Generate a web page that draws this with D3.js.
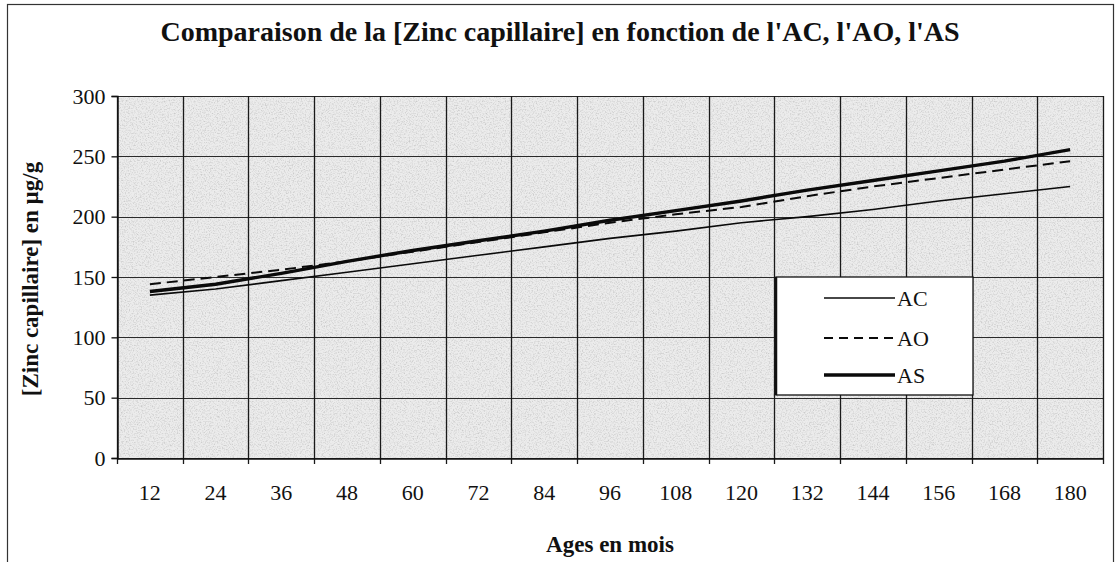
<!DOCTYPE html>
<html>
<head>
<meta charset="utf-8">
<script src="https://cdn.jsdelivr.net/npm/d3@7"></script>
<style>
body { margin: 0; background: #fff; }
text { font-family: "Liberation Serif", "Times New Roman", serif; fill: #111; }
</style>
</head>
<body>
<svg width="1118" height="562" id="content"></svg>
<script>
// ages en mois (categories)
var ages = [12, 24, 36, 48, 60, 72, 84, 96, 108, 120, 132, 144, 156, 168, 180];
// [Zinc capillaire] en µg/g
var acValues = [135, 140, 147, 154, 161, 168, 175, 182, 188, 195, 200, 206, 213, 219, 225];
var aoValues = [144, 150, 156, 163, 171, 179, 187, 195, 202, 208, 217, 225, 232, 239, 246];
var asValues = [138, 144, 153, 163, 172, 180, 188, 197, 205, 213, 222, 230, 238, 246, 255.5];
var yTicks = [0, 50, 100, 150, 200, 250, 300];
var seriesNames = ["AC", "AO", "AS"];

var svg = d3.select("svg");
var width = +svg.attr("width");
var height = +svg.attr("height");

// plot area (note: "top" is taken by window.top, so prefixed names)
var pLeft = 117, pRight = 1103, pTop = 96, pBottom = 458;

// outer frame
svg.append("rect")
  .attr("x", 7.5).attr("y", 4.5)
  .attr("width", 1106).attr("height", 570)
  .attr("fill", "none").attr("stroke", "#333").attr("stroke-width", 1.2);

// grainy gray plot background (scanned look)
var defs = svg.append("defs");
var f = defs.append("filter").attr("id", "grain").attr("x", 0).attr("y", 0).attr("width", 1).attr("height", 1);
f.append("feTurbulence").attr("type", "fractalNoise").attr("baseFrequency", 0.75).attr("numOctaves", 3).attr("seed", 7).attr("result", "n");
f.append("feColorMatrix").attr("in", "n").attr("type", "matrix")
  .attr("values", "0 0 0 0 0.6  0 0 0 0 0.6  0 0 0 0 0.6  2.6 0 0 0 -1.15")
  .attr("result", "m");
f.append("feComposite").attr("in", "m").attr("in2", "SourceGraphic").attr("operator", "over");

var x = d3.scaleBand().domain(ages).range([pLeft, pRight]);
var y = d3.scaleLinear().domain([0, 300]).range([pBottom, pTop]);

svg.append("rect")
  .attr("x", pLeft).attr("y", pTop)
  .attr("width", pRight - pLeft).attr("height", pBottom - pTop)
  .attr("fill", "#ececec")
  .attr("filter", "url(#grain)");

// horizontal grid
svg.append("g").selectAll("line")
  .data(yTicks).enter().append("line")
  .attr("x1", pLeft).attr("x2", pRight)
  .attr("y1", function(d) { return Math.round(y(d)) + 0.5; })
  .attr("y2", function(d) { return Math.round(y(d)) + 0.5; })
  .attr("stroke", "#2a2a2a").attr("stroke-width", 1.2);

// vertical grid at band edges
var edges = ages.map(function(a) { return x(a); }).concat([pRight]);
svg.append("g").selectAll("line")
  .data(edges).enter().append("line")
  .attr("x1", function(d) { return Math.round(d) + 0.5; })
  .attr("x2", function(d) { return Math.round(d) + 0.5; })
  .attr("y1", pTop).attr("y2", pBottom + 6)
  .attr("stroke", "#1a1a1a").attr("stroke-width", 1.3);

// y axis
var yAxis = svg.append("g")
  .attr("transform", "translate(" + (pLeft + 0.5) + ",0)")
  .call(d3.axisLeft(y).tickValues(yTicks).tickSize(6).tickPadding(6));
yAxis.select(".domain").attr("stroke", "#111").attr("stroke-width", 1.4);
yAxis.selectAll(".tick line").attr("stroke", "#111").attr("stroke-width", 1.3);
yAxis.selectAll("text").style("font-family", "Liberation Serif").style("font-size", "22px").attr("fill", "#111");

// x axis labels
var xAxis = svg.append("g")
  .attr("transform", "translate(0," + (pBottom + 0.5) + ")")
  .call(d3.axisBottom(x).tickSize(0).tickPadding(26));
xAxis.select(".domain").attr("stroke", "#111").attr("stroke-width", 1.4);
xAxis.selectAll("text").style("font-family", "Liberation Serif").style("font-size", "22px").attr("fill", "#111");

// series
var series = [
  {name: "AC", values: acValues, width: 1.6, dash: null},
  {name: "AO", values: aoValues, width: 2, dash: "11,6"},
  {name: "AS", values: asValues, width: 3.4, dash: null}
];

var line = d3.line()
  .x(function(d, i) { return x(ages[i]) + x.bandwidth() / 2; })
  .y(function(d) { return y(d); });

svg.append("g").selectAll("path")
  .data(series).enter().append("path")
  .attr("d", function(s) { return line(s.values); })
  .attr("fill", "none")
  .attr("stroke", "#0a0a0a")
  .attr("stroke-width", function(s) { return s.width; })
  .attr("stroke-dasharray", function(s) { return s.dash; });

// legend
var lg = svg.append("g").attr("transform", "translate(776,277)");
lg.append("rect")
  .attr("x", 0).attr("y", 0).attr("width", 197).attr("height", 118)
  .attr("fill", "#fff").attr("stroke", "#111").attr("stroke-width", 1.3);
lg.append("line").attr("x1", 0).attr("x2", 0).attr("y1", 0).attr("y2", 118)
  .attr("stroke", "#111").attr("stroke-width", 2.5);
var item = lg.selectAll(".item")
  .data(series).enter().append("g")
  .attr("transform", function(d, i) { return "translate(0," + [21, 61, 98][i] + ")"; });
item.append("line")
  .attr("x1", 48).attr("x2", 119)
  .attr("stroke", "#0a0a0a")
  .attr("stroke-width", function(s) { return s.width; })
  .attr("stroke-dasharray", function(s) { return s.dash ? "9,6" : null; });
item.append("text")
  .attr("x", 121).attr("dy", "0.35em")
  .style("font-size", "22px")
  .text(function(s) { return s.name; });

// title and axis titles
svg.append("text")
  .attr("x", 560).attr("y", 41)
  .attr("text-anchor", "middle")
  .style("font-size", "28px").style("font-weight", "bold")
  .text("Comparaison de la [Zinc capillaire] en fonction de l'AC, l'AO, l'AS");

svg.append("text")
  .attr("transform", "translate(38," + ((pTop + pBottom) / 2 + 2) + ") rotate(-90)")
  .attr("text-anchor", "middle")
  .style("font-size", "23px").style("font-weight", "bold")
  .text("[Zinc capillaire] en µg/g");

svg.append("text")
  .attr("x", (pLeft + pRight) / 2).attr("y", 552)
  .attr("text-anchor", "middle")
  .style("font-size", "23px").style("font-weight", "bold")
  .text("Ages en mois");
</script>
</body>
</html>
